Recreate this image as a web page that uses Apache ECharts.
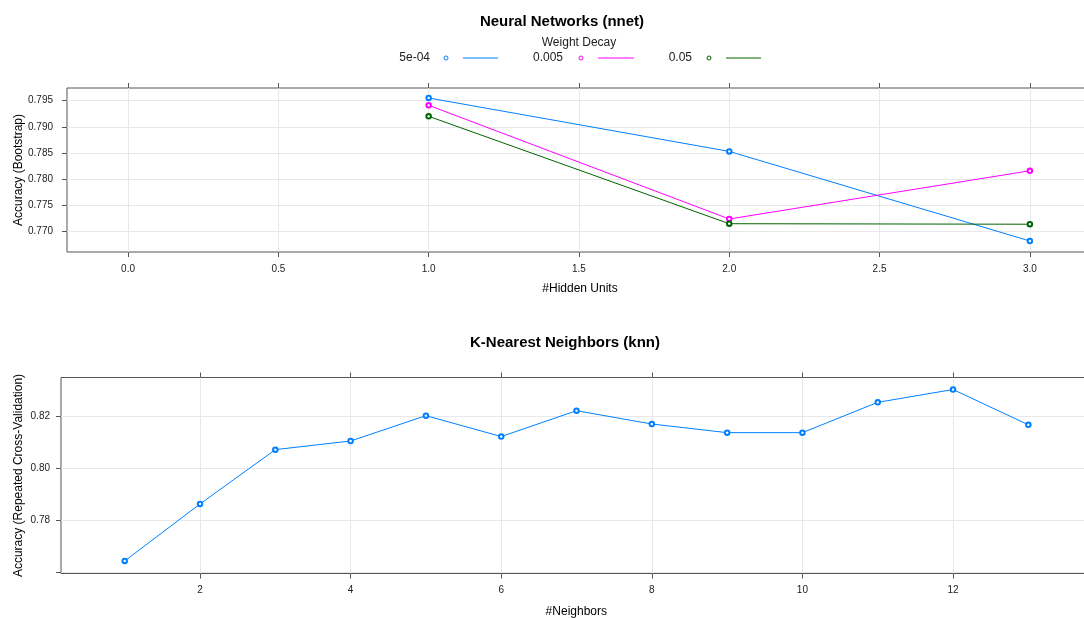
<!DOCTYPE html>
<html>
<head>
<meta charset="utf-8">
<title>Model tuning</title>
<script src="https://cdn.jsdelivr.net/npm/echarts@6/dist/echarts.min.js"></script>
<style>
  html, body { margin: 0; padding: 0; background: #ffffff; }
  #chart { width: 1084px; height: 618px; }
</style>
</head>
<body>
<div id="chart"></div>
<script>
// Neural network tuning: accuracy by hidden units for each weight decay
const hiddenUnits = [1, 2, 3];
const decayLabels = ['5e-04', '0.005', '0.05'];
const accDecay5e4 = [0.7955, 0.7853, 0.7682];
const accDecay005 = [0.7941, 0.7724, 0.7816];
const accDecay05 = [0.7920, 0.7715, 0.7714];

// k-nearest neighbours tuning: accuracy by number of neighbours
const neighbors = [1, 2, 3, 4, 5, 6, 7, 8, 9, 10, 11, 12, 13];
const knnAccuracy = [0.7645, 0.7863, 0.8071, 0.8104, 0.8201, 0.8121, 0.8220,
                     0.8169, 0.8136, 0.8136, 0.8252, 0.8301, 0.8166];

// tick positions
const nnetXTicks = [0, 0.5, 1, 1.5, 2, 2.5, 3];
const nnetYTicks = [0.770, 0.775, 0.780, 0.785, 0.790, 0.795];
const knnXTicks = [2, 4, 6, 8, 10, 12];
const knnYTicks = [0.76, 0.78, 0.80, 0.82];
const knnYLabels = [0.78, 0.80, 0.82];

const decaySeries = [accDecay5e4, accDecay005, accDecay05];
const palette = ['#0080ff', '#ff00ff', '#006400'];

const FONT = "'Liberation Sans', Arial, sans-serif";
const frameColor = '#555555';
const gridColor = '#e8e8e8';

function pairs(xs, ys) { return xs.map((x, i) => [x, ys[i]]); }

function xAxisFor(gridIndex, min, max, ticks, labelFmt, name, nameGap, margin) {
  return [{
    type: 'value', gridIndex, min, max, position: 'bottom',
    name, nameLocation: 'middle', nameGap, nameMoveOverlap: false,
    nameTextStyle: { fontFamily: FONT, fontSize: 12, color: '#000' },
    axisLine: { show: false, onZero: false },
    axisTick: { show: true, length: 5, customValues: ticks, lineStyle: { color: frameColor } },
    axisLabel: { customValues: ticks, formatter: labelFmt, margin, fontFamily: FONT, fontSize: 10, color: '#222' },
    splitLine: { show: true, lineStyle: { color: gridColor, width: 1 } }
  }, {
    type: 'value', gridIndex, min, max, position: 'top',
    axisLine: { show: false, onZero: false },
    axisTick: { show: true, length: 5, customValues: ticks, lineStyle: { color: frameColor } },
    axisLabel: { show: false },
    splitLine: { show: false }
  }];
}

function yAxisFor(gridIndex, min, max, ticks, labels, labelFmt, name, nameGap, margin) {
  return {
    type: 'value', gridIndex, min, max,
    name, nameLocation: 'middle', nameGap, nameMoveOverlap: false,
    nameTextStyle: { fontFamily: FONT, fontSize: 12, color: '#000' },
    axisLine: { show: false, onZero: false },
    axisTick: { show: true, length: 5, customValues: ticks, lineStyle: { color: frameColor } },
    axisLabel: { customValues: labels, formatter: labelFmt, margin, fontFamily: FONT, fontSize: 10, color: '#222' },
    splitLine: { show: true, lineStyle: { color: gridColor, width: 1 } }
  };
}

const nnetSeries = decaySeries.map((vals, i) => ({
  type: 'line', name: decayLabels[i], xAxisIndex: 0, yAxisIndex: 0,
  data: pairs(hiddenUnits, vals),
  symbol: 'emptyCircle', symbolSize: 4.5,
  lineStyle: { color: palette[i], width: 1 },
  itemStyle: { color: palette[i], borderWidth: 0.7 },
  animation: false
}));

const knnSeriesDef = {
  type: 'line', name: 'knn', xAxisIndex: 2, yAxisIndex: 1,
  data: pairs(neighbors, knnAccuracy),
  symbol: 'emptyCircle', symbolSize: 4.5,
  lineStyle: { color: palette[0], width: 1 },
  itemStyle: { color: palette[0], borderWidth: 0.7 },
  animation: false
};

// key above the upper panel
const keyItems = [
  { textRight: 430, dot: 446, l1: 463, l2: 498 },
  { textRight: 563, dot: 581, l1: 598, l2: 634 },
  { textRight: 692, dot: 709, l1: 726, l2: 761 }
];
const keyY = 58;
const keyGraphics = [{
  type: 'text', x: 579, y: 43,
  style: { text: 'Weight Decay', font: '12px ' + FONT, fill: '#222', textAlign: 'center', textVerticalAlign: 'middle' }
}];
keyItems.forEach((k, i) => {
  keyGraphics.push({
    type: 'text', x: k.textRight, y: keyY,
    style: { text: decayLabels[i], font: '12px ' + FONT, fill: '#222', textAlign: 'right', textVerticalAlign: 'middle' }
  });
  keyGraphics.push({
    type: 'circle', shape: { cx: k.dot, cy: keyY, r: 2 },
    style: { fill: 'none', stroke: palette[i], lineWidth: 1 }
  });
  keyGraphics.push({
    type: 'line', shape: { x1: k.l1, y1: keyY, x2: k.l2, y2: keyY },
    style: { stroke: palette[i], lineWidth: 1 }
  });
});

const option = {
  backgroundColor: '#ffffff',
  animation: false,
  title: [
    { text: 'Neural Networks (nnet)', left: 557, top: 9, textAlign: 'center',
      textStyle: { fontFamily: FONT, fontSize: 15, fontWeight: 'bold', color: '#000' } },
    { text: 'K-Nearest Neighbors (knn)', left: 560, top: 330, textAlign: 'center',
      textStyle: { fontFamily: FONT, fontSize: 15, fontWeight: 'bold', color: '#000' } }
  ],
  // both panels run slightly past the right edge of the page
  grid: [
    { left: 67, width: 1026, top: 88, height: 164, outerBoundsMode: 'none', containLabel: false,
      show: true, borderColor: frameColor, borderWidth: 1, backgroundColor: 'transparent' },
    { left: 61, width: 1030.6, top: 377.5, height: 196, outerBoundsMode: 'none', containLabel: false,
      show: true, borderColor: frameColor, borderWidth: 1, backgroundColor: 'transparent' }
  ],
  xAxis: [
    ...xAxisFor(0, -0.203, 3.21, nnetXTicks, v => v.toFixed(1), '#Hidden Units', 31, 12),
    ...xAxisFor(1, 0.154, 13.84, knnXTicks, v => String(v), '#Neighbors', 32, 12)
  ],
  yAxis: [
    yAxisFor(0, 0.7661, 0.7974, nnetYTicks, nnetYTicks, v => v.toFixed(3), 'Accuracy (Bootstrap)', 42, 14),
    yAxisFor(1, 0.7597, 0.8347, knnYTicks, knnYLabels, v => v.toFixed(2), 'Accuracy (Repeated Cross-Validation)', 36, 11)
  ],
  graphic: keyGraphics,
  series: [...nnetSeries, knnSeriesDef]
};

const chart = echarts.init(document.getElementById('chart'), null, { renderer: 'canvas' });
chart.setOption(option);
</script>
</body>
</html>
